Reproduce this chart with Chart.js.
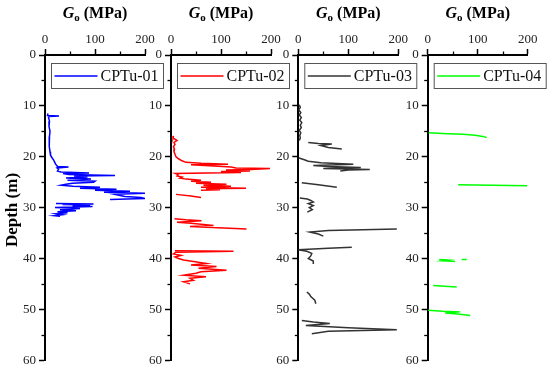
<!DOCTYPE html>
<html><head><meta charset="utf-8">
<script src="https://cdn.jsdelivr.net/npm/chart.js@4/dist/chart.umd.min.js"></script>
<style>
html,body{margin:0;padding:0;background:#fff;width:550px;height:371px;overflow:hidden}
canvas{position:absolute;left:0;top:0}
</style></head><body>
<canvas id="c0" width="550" height="371"></canvas>
<canvas id="c1" width="550" height="371"></canvas>
<canvas id="c2" width="550" height="371"></canvas>
<canvas id="c3" width="550" height="371"></canvas>
<script>
// ---- data: [depth (m), Go (MPa)], null = gap ----
const seriesNames = ['CPTu-01','CPTu-02','CPTu-03','CPTu-04'];
const xTickValues = [0,100,200];
const yTickValues = [0,10,20,30,40,50,60];

const cptu01 = [[11.5,6],[11.9,5],[12.0,28],[12.1,8],[12.3,7],[13,9],[14,8],[15,10],[16,9],[17,9],[18,8],[19,10],[19.7,11],[20.2,14],[20.6,17],[21.0,19],[21.4,21],[21.7,23],[21.9,25],[22.0,47],[22.2,24],[22.5,27],[22.8,25],[23.0,32],[23.2,88],[23.3,36],[23.5,48],[23.7,140],[23.8,58],[24.0,85],[24.2,42],[24.4,92],[24.6,45],[24.8,100],[25.0,97],[25.2,55],[25.4,42],[25.6,32],[25.8,56],[26.0,110],[26.2,70],[26.4,143],[26.6,100],[26.8,170],[27.0,118],[27.2,200],[27.4,140],[27.6,150],[27.8,160],[28.0,192],[28.2,200],[28.4,130],null,[29.2,22],[29.3,97],[29.4,35],[29.5,90],[29.7,55],[29.8,95],[30.0,20],[30.2,70],[30.4,30],[30.6,62],[30.8,25],[31.0,45],[31.2,22],[31.4,35],[31.6,19],[31.7,30]];

const cptu02 = [[15.9,5],[16.3,4],[16.8,12],[17.2,6],[17.6,8],[18.0,5],[18.5,7],[19.0,6],[19.5,8],[20.0,10],[20.4,15],[20.8,22],[21.1,30],[21.3,60],[21.5,114],[21.6,40],[21.8,86],[22.0,120],[22.2,130],[22.3,198],[22.5,160],[22.6,110],[22.8,158],[22.9,100],[23.1,140],[23.3,9],[23.5,14],[23.8,12],[24.0,22],[24.2,18],[24.4,30],[24.6,60],[24.8,40],[25.0,80],[25.2,50],[25.4,111],[25.6,65],[25.8,120],[26.0,60],[26.2,150],[26.3,70],[26.5,98],[26.6,60],null,[27.4,10],[27.7,40],[28.0,60],null,[32.2,7],[32.4,30],[32.6,61],[32.9,12],[33.1,40],[33.5,85],[33.7,38],[34.2,151],null,[38.5,8],[38.6,125],[38.8,10],[39.1,5],[39.4,20],[39.7,8],[40.0,15],[40.3,25],[40.6,45],[41.0,71],[41.3,40],[41.6,91],[41.9,55],[42.3,111],[42.6,60],[42.9,50],[43.3,25],[43.6,70],[43.9,38],[44.3,45],[44.6,25],[45.0,38]];

const cptu03 = [[9.8,2],[10.3,4],[10.8,1],[11.3,5],[11.8,2],[12.3,6],[12.8,3],[13.3,7],[13.8,4],[14.3,6],[14.8,2],[15.3,5],[15.8,3],[16.3,4],[16.8,2],null,[17.2,20],[17.4,40],[17.5,67],[17.8,45],[18.2,60],[18.5,87],null,[20.2,0],[20.6,12],[20.9,20],[21.2,45],[21.5,110],[21.7,30],[21.9,60],[22.1,125],[22.3,50],[22.5,143],[22.6,100],[22.8,84],null,[25.1,7],[25.5,40],[26.0,77],null,[28.1,3],[28.3,18],[28.6,25],[28.9,30],[29.2,20],[29.6,30],[30.0,22],[30.4,28],[30.9,18],null,[34.2,197],[34.5,60],[34.8,23],[35.2,40],[35.6,50],null,[37.8,107],[38.0,60],[38.3,0],[38.6,17],[39.0,27],[39.5,25],[40.0,20],[40.5,30],[41.1,30],null,[46.6,17],[47.0,22],[47.5,25],[48.2,33],[48.9,35],null,[52.2,7],[52.5,30],[52.8,63],[53.2,15],[53.6,100],[54.0,197],[54.3,60],[54.8,27]];

const cptu04 = [[15.3,2],[15.5,40],[15.6,71],[15.8,95],[16.0,110],[16.2,118],null,[25.5,61],[25.6,130],[25.7,199],null,[40.2,23],[40.3,40],[40.45,30],[40.55,50],[40.6,55],null,[40.2,68],[40.2,78],null,[45.3,11],[45.6,58],null,[50.2,1],[50.4,30],[50.5,65],[50.7,35],[50.9,60],[51.2,85]];

const seriesData = [cptu01, cptu02, cptu03, cptu04];

// ---- styling / layout ----
const lineColors = ['#0000ff','#ff0000','#333333','#00ff00'];
const panelLeft = [45, 171, 298.3, 427.7];
const FONT = "'Liberation Serif','Times New Roman',serif";

const decor = {
  id:'decor',
  afterDraw(chart, args, opts){
    const ctx = chart.ctx, xs = chart.scales.x, ys = chart.scales.y, ca = chart.chartArea;
    ctx.save();
    // minor ticks
    ctx.strokeStyle = '#000'; ctx.lineWidth = 1.3;
    [50,150].forEach(v=>{
      const px = Math.round(xs.getPixelForValue(v))+0.5;
      ctx.beginPath(); ctx.moveTo(px, ca.top); ctx.lineTo(px, ca.top-3.5); ctx.stroke();
    });
    for (let v=5; v<60; v+=10){
      const py = Math.round(ys.getPixelForValue(v))+0.5;
      ctx.beginPath(); ctx.moveTo(ca.left, py); ctx.lineTo(ca.left-3.5, py); ctx.stroke();
    }
    // title G_o (MPa)
    ctx.fillStyle = '#000'; ctx.textBaseline = 'alphabetic';
    const fG = 'italic bold 16px ' + FONT, fo = 'bold 11px ' + FONT, fM = 'bold 16px ' + FONT;
    ctx.font = fG; const wG = ctx.measureText('G').width;
    ctx.font = fo; const wo = ctx.measureText('o').width;
    ctx.font = fM; const wM = ctx.measureText(' (MPa)').width;
    const cx = (ca.left + ca.right)/2;
    let tx = cx - (wG+wo+wM)/2; const ty = 18;
    ctx.font = fG; ctx.fillText('G', tx, ty); tx += wG;
    ctx.font = fo; ctx.fillText('o', tx, ty+3); tx += wo;
    ctx.font = fM; ctx.fillText(' (MPa)', tx, ty);
    // legend box
    const bx = ca.left + 6.5, by = 63.5, bw = 112, bh = 25;
    ctx.fillStyle = '#fff'; ctx.fillRect(bx, by, bw, bh);
    ctx.strokeStyle = '#555'; ctx.lineWidth = 1; ctx.strokeRect(bx, by, bw, bh);
    const ds = chart.data.datasets[0];
    ctx.strokeStyle = ds.borderColor; ctx.lineWidth = 1.5;
    ctx.beginPath(); ctx.moveTo(bx+3, by+bh/2); ctx.lineTo(bx+46, by+bh/2); ctx.stroke();
    ctx.fillStyle = '#111'; ctx.font = '16px ' + FONT; ctx.textBaseline = 'middle';
    ctx.fillText(ds.label, bx+49, by+bh/2+1);
    // depth label on first panel
    if (opts.depth){
      ctx.save(); ctx.translate(13, 210); ctx.rotate(-Math.PI/2);
      ctx.textAlign = 'center'; ctx.textBaseline = 'middle';
      ctx.fillStyle = '#000'; ctx.font = 'bold 17px ' + FONT;
      ctx.fillText('Depth (m)', 0, 0); ctx.restore();
    }
    ctx.restore();
  }
};

function makeChart(i){
  const x0 = panelLeft[i];
  const pts = seriesData[i].map(p => p ? {x:p[1], y:p[0]} : {x:null, y:null});
  new Chart(document.getElementById('c'+i), {
    type:'scatter',
    data:{datasets:[{label:seriesNames[i], data:pts, showLine:true, spanGaps:false,
      borderColor:lineColors[i], backgroundColor:lineColors[i], borderWidth:1.5,
      pointRadius:0, pointHoverRadius:0, tension:0}]},
    options:{
      responsive:false, animation:false, devicePixelRatio:1, events:[],
      layout:{padding:{left:x0-30, right:550-x0-100, top:0, bottom:8.5}},
      plugins:{legend:{display:false}, tooltip:{enabled:false}, title:{display:false}, decor:{depth:i===0}},
      scales:{
        x:{type:'linear', position:'top', min:0, max:200,
          afterBuildTicks:s=>{s.ticks = xTickValues.map(v=>({value:v}));},
          afterFit:s=>{s.height = 55;},
          grid:{drawOnChartArea:false, drawTicks:true, tickLength:6, tickWidth:1.5, tickColor:'#000'},
          border:{display:true, color:'#000', width:2},
          ticks:{color:'#222', font:{family:FONT, size:13}, padding:2, maxRotation:0}},
        y:{type:'linear', position:'left', reverse:true, min:0, max:60,
          afterBuildTicks:s=>{s.ticks = yTickValues.map(v=>({value:v}));},
          afterFit:s=>{s.width = 30;},
          grid:{drawOnChartArea:false, drawTicks:true, tickLength:6, tickWidth:1.5, tickColor:'#000'},
          border:{display:true, color:'#000', width:2},
          ticks:{color:'#222', font:{family:FONT, size:13}, padding:3}}
      }
    },
    plugins:[decor]
  });
}
[0,1,2,3].forEach(makeChart);
</script>
</body></html>
